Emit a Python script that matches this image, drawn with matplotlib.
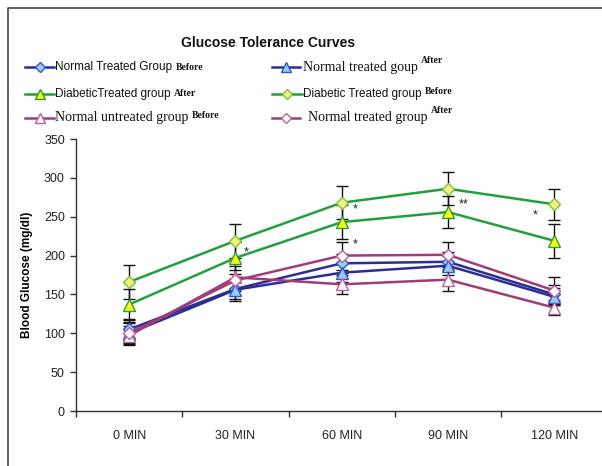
import matplotlib
matplotlib.use('Agg')
import matplotlib.pyplot as plt
from matplotlib.lines import Line2D
import numpy as np

# ---------------- data ----------------
categories = ['0 MIN', '30 MIN', '60 MIN', '90 MIN', '120 MIN']
normal_treated_before = [105, 157, 190, 192, 150]
normal_treated_before_err = [14, 13, 12, 12, 12]
normal_treated_after_b = [100, 156, 178, 187, 147]
normal_treated_after_b_err = [13, 14, 12, 12, 11]
diabetic_treated_after = [137, 197, 243, 256, 219]
diabetic_treated_after_err = [20, 21, 22, 21, 22]
diabetic_treated_before = [166, 219, 268, 286, 266]
diabetic_treated_before_err = [22, 22, 21, 21, 20]
normal_untreated_before = [97, 172, 163, 169, 133]
normal_untreated_before_err = [12, 14, 12, 14, 10]
normal_treated_after_p = [100, 168, 200, 201, 155]
normal_treated_after_p_err = [14, 13, 18, 16, 18]
yticks = [0, 50, 100, 150, 200, 250, 300, 350]
star_x = [1.08, 2.1, 2.1, 3.1, 3.8]
star_y = [204, 259, 214, 266, 251]
star_txt = ['*', '*', '*', '**', '*']

W, H = 602, 466
fig = plt.figure(figsize=(W / 100, H / 100), dpi=100)
fig.patch.set_facecolor('white')


def fx(px):
    return px / W


def fy(py):
    return 1 - py / H


SANS = 'Liberation Sans'
SERIF = 'Liberation Serif'

blue_line = '#2d2d96'
blue_fill = '#99ccff'
blue_edge = '#3355cc'
green_line = '#22a03c'
pink_line = '#a03c78'
pink_edge = '#c0609a'

series = [
    dict(v=normal_treated_before, e=normal_treated_before_err, lc=blue_line, m='D', ms=6, mfc=blue_fill, mec=blue_edge),
    dict(v=normal_treated_after_b, e=normal_treated_after_b_err, lc=blue_line, m='^', ms=8, mfc=blue_fill, mec=blue_edge),
    dict(v=diabetic_treated_after, e=diabetic_treated_after_err, lc=green_line, m='^', ms=8, mfc='#ffff00', mec=green_line),
    dict(v=diabetic_treated_before, e=diabetic_treated_before_err, lc=green_line, m='D', ms=6.5, mfc='#f2f27a', mec='#7cc040'),
    dict(v=normal_untreated_before, e=normal_untreated_before_err, lc=pink_line, m='^', ms=8, mfc='white', mec=pink_edge),
    dict(v=normal_treated_after_p, e=normal_treated_after_p_err, lc=pink_line, m='D', ms=6.5, mfc='white', mec=pink_edge),
]

ax = fig.add_axes([fx(76), fy(411), fx(602) - fx(76), (411 - 139) / H])
x = np.arange(len(categories))
for s in series:
    ax.errorbar(x, s['v'], yerr=s['e'], color=s['lc'], lw=1.8, marker=s['m'], ms=s['ms'],
                mfc=s['mfc'], mec=s['mec'], mew=1.0, ecolor='#111111', elinewidth=1.0,
                capsize=4, capthick=1.0)

for sx, sy, st in zip(star_x, star_y, star_txt):
    ax.text(sx, sy, st, fontsize=9, family=SANS, ha='left', va='center', color='#222222')

ax.set_xlim(-0.5, 4.45)
ax.set_ylim(0, 350)
ax.set_yticks(yticks)
ax.set_yticklabels([str(t) for t in yticks], family=SANS, fontsize=9, color='#222222')
ax.set_xticks(x)
ax.set_xticklabels(categories, family=SANS, fontsize=9, color='#222222')
ax.set_xticks(np.arange(-0.5, 4.0, 1.0), minor=True)
ax.tick_params(axis='x', which='major', length=0, pad=14)
ax.tick_params(axis='x', which='minor', length=4, direction='out', width=1, color='#333333')
ax.tick_params(axis='y', length=4, direction='out', width=1, color='#333333', pad=4)
for sp in ['top', 'right']:
    ax.spines[sp].set_visible(False)
for sp in ['left', 'bottom']:
    ax.spines[sp].set_color('#333333')
    ax.spines[sp].set_linewidth(1.0)

ax.set_ylabel('Blood Glucose (mg/dl)', family=SANS, fontsize=8.5, fontweight='bold', labelpad=8)

# title
fig.text(fx(268), fy(43), 'Glucose Tolerance Curves', family=SANS, fontsize=10,
         fontweight='bold', ha='center', va='center', color='#111111')

# border
fig.add_artist(Line2D([fx(8), fx(8), fx(602)], [fy(466), fy(8), fy(8)], color='#444444', lw=1.2))

# legend (manual)
legend_rows = [
    # handle x0, x1, y, text x, main text, main family, main size, extra text, extra dy
    (25, 54, 67, 55, 'Normal Treated Group', SANS, 8.5, 'Before', 0.0),
    (272, 300, 67, 303, 'Normal treated goup', SERIF, 10, 'After', 5.0),
    (25, 54, 94, 55, 'DiabeticTreated group', SANS, 8.5, 'After', 0.0),
    (272, 302, 94, 303, 'Diabetic Treated group', SANS, 8.5, 'Before', 1.5),
    (25, 54, 118, 55, 'Normal untreated group', SERIF, 10, 'Before', 2.0),
    (272, 300, 118, 308, 'Normal treated group', SERIF, 10, 'After', 5.5),
]
for s, row in zip(series, legend_rows):
    x0, x1, yy, tx, main, fam, fs, extra, dy = row
    fig.add_artist(Line2D([fx(x0), fx(x1)], [fy(yy), fy(yy)], color=s['lc'], lw=1.8))
    fig.add_artist(Line2D([fx((x0 + x1) / 2)], [fy(yy)], marker=s['m'], ms=s['ms'] - 1,
                          mfc=s['mfc'], mec=s['mec'], mew=1.0, lw=0))
    t = fig.text(fx(tx), fy(yy), main, family=fam, fontsize=fs, ha='left', va='center', color='#111111')
    ax.annotate(extra, xy=(1, 0.5), xycoords=t, xytext=(2.5, dy), textcoords='offset points',
                family=SERIF, fontsize=7, fontweight='bold', ha='left', va='center',
                color='#111111', annotation_clip=False)

fig.savefig('out.png', dpi=100)
